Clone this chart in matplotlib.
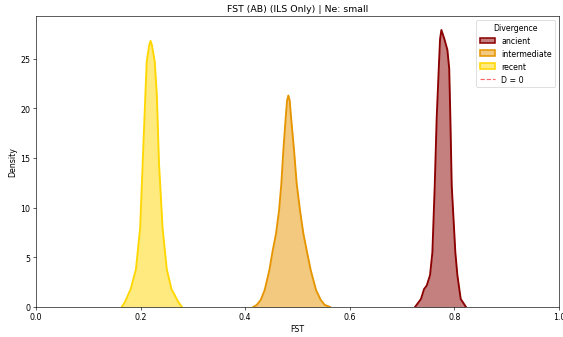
import matplotlib
matplotlib.use("Agg")
import matplotlib.pyplot as plt
from matplotlib.colors import to_rgb
from matplotlib.patches import Patch
from matplotlib.lines import Line2D

# density curves (FST value, density)
recent_x = [0.164, 0.170, 0.181, 0.191, 0.199, 0.204, 0.209, 0.2116, 0.2165, 0.219,
            0.2215, 0.227, 0.231, 0.235, 0.242, 0.250, 0.259, 0.272, 0.279]
recent_d = [0.0, 0.5, 1.8, 3.8, 7.9, 14.6, 21.3, 24.7, 26.4, 26.8,
            26.4, 24.7, 21.3, 14.6, 7.9, 3.8, 1.8, 0.5, 0.0]

inter_x = [0.4155, 0.422, 0.4296, 0.4372, 0.4461, 0.4526, 0.4589, 0.4646, 0.469, 0.4729,
           0.4774, 0.480, 0.4824, 0.485, 0.4876, 0.4933, 0.4984, 0.5048, 0.5111, 0.5175,
           0.5252, 0.5354, 0.5444, 0.552, 0.562]
inter_d = [0.0, 0.2, 0.7, 1.7, 3.7, 5.7, 7.4, 9.7, 12.4, 15.8,
           19.1, 20.8, 21.3, 20.8, 19.1, 15.8, 12.4, 9.7, 7.4, 5.7,
           3.7, 1.7, 0.7, 0.2, 0.0]

ancient_x = [0.7247, 0.736, 0.7419, 0.747, 0.7533, 0.7578, 0.7623, 0.766, 0.770, 0.7725,
             0.775, 0.7807, 0.7865, 0.790, 0.7922, 0.7948, 0.8017, 0.8056, 0.812, 0.822]
ancient_d = [0.0, 0.8, 1.8, 2.15, 3.2, 5.5, 12.2, 19.0, 24.0, 27.0,
             27.9, 27.0, 25.9, 24.0, 19.0, 12.2, 5.5, 3.2, 0.8, 0.0]

groups = ["ancient", "intermediate", "recent"]
colors = {"ancient": "#8B0000", "intermediate": "#E69500", "recent": "#FFD700"}
curves = {"ancient": (ancient_x, ancient_d),
          "intermediate": (inter_x, inter_d),
          "recent": (recent_x, recent_d)}

fig, ax = plt.subplots(figsize=(10, 6), dpi=56.3)
fig.subplots_adjust(left=0.064, right=0.993, top=0.950, bottom=0.089)

for g in groups:
    x, d = curves[g]
    ax.fill_between(x, d, color=colors[g], alpha=0.5, linewidth=0)
    ax.plot(x, d, color=colors[g], lw=2.4)

ax.set_xlim(0, 1)
ax.set_ylim(0, 29.3)
ax.set_title("FST (AB) (ILS Only) | Ne: small")
ax.set_xlabel("FST")
ax.set_ylabel("Density")

handles = [Patch(facecolor=(*to_rgb(colors[g]), 0.5), edgecolor=colors[g], lw=2, label=g)
           for g in groups]
handles.append(Line2D([], [], color=(1, 0, 0, 0.6), ls="--", lw=1.5, label="D = 0"))
ax.legend(handles=handles, title="Divergence", loc="upper right")

fig.savefig("out.png")
